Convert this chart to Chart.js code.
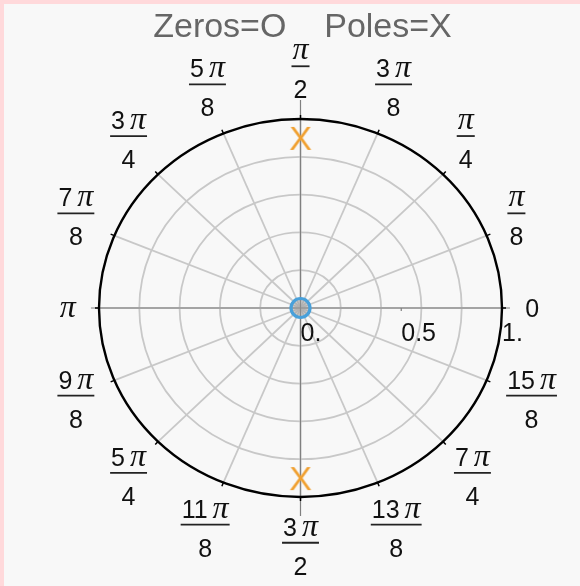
<!DOCTYPE html>
<html>
<head>
<meta charset="utf-8">
<script src="https://cdn.jsdelivr.net/npm/chart.js@4/dist/chart.umd.min.js"></script>
<style>
  html, body { margin: 0; padding: 0; background: #ffd9db; }
  #wrap { position: absolute; left: 4px; top: 4px; width: 576px; height: 582px; background: #f8f8f8; }
</style>
</head>
<body>
<div id="wrap"><canvas id="myChart" width="576" height="582"></canvas></div>
<script>
// zeros and poles (real and imaginary parts)
const zeroRe = [0];
const zeroIm = [0];
const poleRe = [0, 0];
const poleIm = [0.9, -0.9];

// polar grid: rings, spokes (in multiples of pi) and their labels
const ringRadii = [0.2, 0.4, 0.6, 0.8];
const spokeAngles = [0, 1/8, 2/8, 3/8, 4/8, 5/8, 6/8, 7/8, 1, 9/8, 10/8, 11/8, 12/8, 13/8, 14/8, 15/8];
const angleNumerators = ['0', 'π', 'π', '3 π', 'π', '5 π', '3 π', '7 π', 'π', '9 π', '5 π', '11 π', '3 π', '13 π', '7 π', '15 π'];
const angleDenominators = ['', '8', '4', '8', '2', '8', '4', '8', '', '8', '4', '8', '2', '8', '4', '8'];
const radialTicks = [0, 0.5, 1];
const radialTickLabels = ['0.', '0.5', '1.'];
const titleText = 'Zeros=O    Poles=X';

const numFont = '25px "Liberation Sans", Arial, sans-serif';
const piFont = 'italic 32px "Liberation Serif", "Times New Roman", serif';

function makeCross() {
  const c = document.createElement('canvas');
  c.width = 30; c.height = 32;
  const g = c.getContext('2d');
  g.fillStyle = '#f0a030';
  g.font = '34px "Liberation Sans", Arial, sans-serif';
  g.textAlign = 'center';
  g.fillText('X', 15, 28);
  return c;
}

// numerator like "3 π": digits in sans, pi in italic serif
function numeratorParts(ctx, text) {
  const digits = text.replace('π', '').trim();
  const hasPi = text.indexOf('π') >= 0;
  ctx.font = numFont;
  const dW = digits ? ctx.measureText(digits).width : 0;
  ctx.font = piFont;
  const pW = hasPi ? ctx.measureText('π').width : 0;
  const gap = digits && hasPi ? 5 : 0;
  return { digits, hasPi, dW, pW, gap, w: dW + gap + pW };
}

function drawNumerator(ctx, p, left, base) {
  if (p.digits) { ctx.font = numFont; ctx.fillText(p.digits, left, base); }
  if (p.hasPi) { ctx.font = piFont; ctx.fillText('π', left + p.dW + p.gap, base); }
}

const polarGrid = {
  id: 'polarGrid',
  beforeDatasetsDraw(chart) {
    const { ctx, scales: { x, y } } = chart;
    const cx = x.getPixelForValue(0), cy = y.getPixelForValue(0);
    const rx = x.getPixelForValue(1) - cx, ry = cy - y.getPixelForValue(1);
    const pt = (r, a) => [cx + r * rx * Math.cos(a), cy - r * ry * Math.sin(a)];
    ctx.save();

    // rings and spokes
    ctx.strokeStyle = '#c8c8c8';
    ctx.lineWidth = 1.8;
    ringRadii.forEach(r => {
      ctx.beginPath();
      ctx.ellipse(cx, cy, r * rx, r * ry, 0, 0, 2 * Math.PI);
      ctx.stroke();
    });
    spokeAngles.forEach(s => {
      const [px, py] = pt(1, s * Math.PI);
      ctx.beginPath();
      ctx.moveTo(cx, cy);
      ctx.lineTo(px, py);
      ctx.stroke();
    });

    // axes
    ctx.strokeStyle = '#808080';
    ctx.lineWidth = 1.2;
    ctx.beginPath();
    ctx.moveTo(cx - 1.04 * rx, cy); ctx.lineTo(cx + 1.04 * rx, cy);
    ctx.moveTo(cx, cy - 1.1 * ry); ctx.lineTo(cx, cy + 1.1 * ry);
    ctx.stroke();
    ctx.beginPath();
    ctx.moveTo(x.getPixelForValue(0.5), cy); ctx.lineTo(x.getPixelForValue(0.5), cy + 3);
    ctx.stroke();

    // outer circle with ticks
    ctx.strokeStyle = '#000';
    ctx.lineWidth = 2.4;
    ctx.beginPath();
    ctx.ellipse(cx, cy, rx, ry, 0, 0, 2 * Math.PI);
    ctx.stroke();
    ctx.lineWidth = 1.5;
    spokeAngles.forEach(s => {
      const a = s * Math.PI;
      const [px, py] = pt(1, a);
      ctx.beginPath();
      ctx.moveTo(px, py);
      ctx.lineTo(px + 4 * Math.cos(a), py - 4 * Math.sin(a));
      ctx.stroke();
    });

    // angle labels
    ctx.fillStyle = '#111';
    ctx.textAlign = 'left';
    ctx.textBaseline = 'alphabetic';
    spokeAngles.forEach((s, i) => {
      const a = s * Math.PI;
      const [ax, ay] = pt(1.115, a);
      const p = numeratorParts(ctx, angleNumerators[i]);
      const den = angleDenominators[i];
      if (!den) {
        const bx = ax + p.w / 2 * Math.cos(a);
        drawNumerator(ctx, p, bx - p.w / 2, ay + 9);
        return;
      }
      ctx.font = numFont;
      const denW = ctx.measureText(den).width;
      const w = Math.max(p.w, denW) + 2;
      const h = 55;
      const bx = ax + w / 2 * Math.cos(a);
      const by = ay - h / 2 * Math.sin(a);
      const bar = by - 3.5;
      drawNumerator(ctx, p, bx - p.w / 2, bar - 7);
      ctx.font = numFont;
      ctx.fillText(den, bx - denW / 2, bar + 32);
      ctx.strokeStyle = '#222';
      ctx.lineWidth = 1.8;
      ctx.beginPath();
      ctx.moveTo(bx - w / 2, bar); ctx.lineTo(bx + w / 2, bar);
      ctx.stroke();
    });

    // radial tick labels
    ctx.font = numFont;
    radialTicks.forEach((v, i) => {
      ctx.fillText(radialTickLabels[i], x.getPixelForValue(v), cy + 33);
    });

    // title
    ctx.font = '34px "Liberation Sans", Arial, sans-serif';
    ctx.fillStyle = '#666';
    ctx.textAlign = 'center';
    ctx.fillText(titleText, cx + 2, 33);
    ctx.restore();
  }
};

const ctx = document.getElementById('myChart').getContext('2d');
const chart = new Chart(ctx, {
  type: 'scatter',
  data: {
    datasets: [{
      label: 'Zeros',
      data: zeroRe.map((re, i) => ({ x: re, y: zeroIm[i] })),
      pointStyle: 'circle',
      pointRadius: 9.5,
      borderWidth: 3.2,
      borderColor: '#48a0da',
      backgroundColor: 'rgba(150,150,150,0.45)',
      clip: false
    }, {
      label: 'Poles',
      data: poleRe.map((re, i) => ({ x: re, y: poleIm[i] })),
      pointStyle: makeCross(),
      clip: false
    }]
  },
  options: {
    responsive: false,
    animation: false,
    events: [],
    layout: { padding: { left: 95, right: 78, top: 115, bottom: 89 } },
    scales: {
      x: { type: 'linear', min: -1, max: 1, display: false },
      y: { type: 'linear', min: -1, max: 1, display: false }
    },
    plugins: { legend: { display: false }, tooltip: { enabled: false } }
  },
  plugins: [polarGrid]
});
</script>
</body>
</html>
